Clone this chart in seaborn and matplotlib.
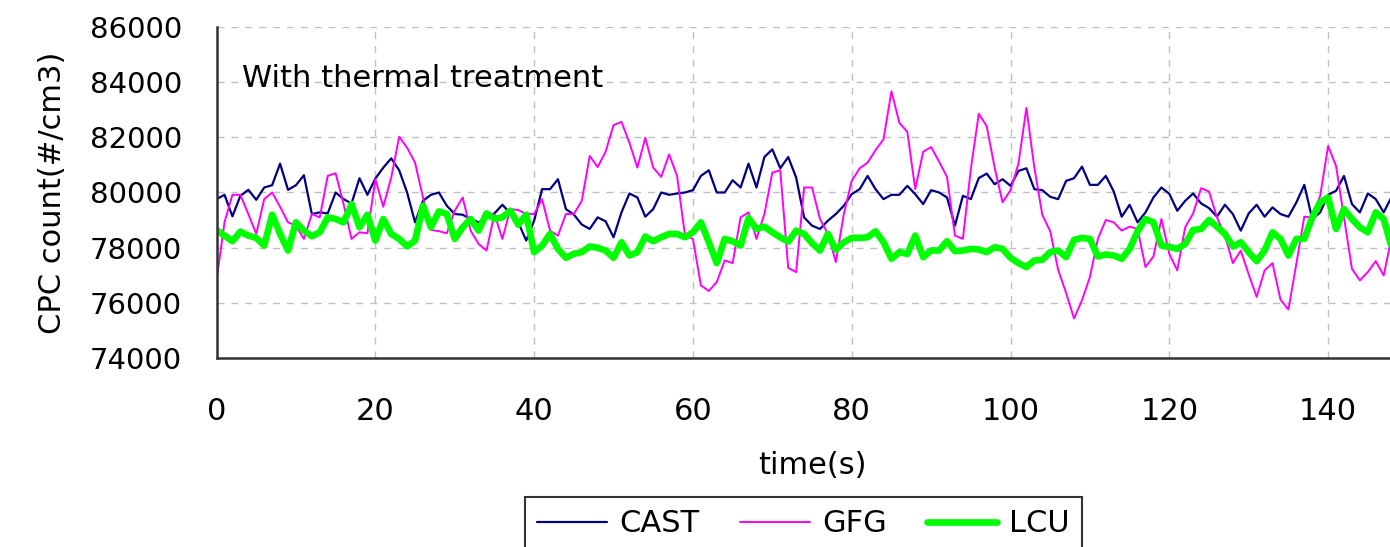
import numpy as np
import pandas as pd
import matplotlib
matplotlib.use("Agg")
import matplotlib.pyplot as plt
import seaborn as sns

# CPC counts, one value per second (0..148)
time_s = list(range(149))

cast = [
    79760, 79916, 79136, 79880, 80096, 79736, 80180, 80264, 81044, 80096,
    80264, 80624, 79220, 79280, 79244, 80000, 79760, 79604, 80516, 79916,
    80504, 80900, 81236, 80804, 80000, 78920, 79700, 79916, 80000, 79520,
    79220, 79196, 79040, 78920, 79076, 79244, 79556, 79244, 78920, 78260,
    78980, 80120, 80120, 80480, 79400, 79200, 78840, 78680, 79100, 78956,
    78380, 79280, 79964, 79820, 79124, 79400, 80000, 79916, 79964, 80000,
    80084, 80600, 80804, 80000, 80000, 80444, 80180, 81044, 80180, 81284,
    81560, 80876, 81284, 80540, 79100, 78800, 78680, 78980, 79220, 79520,
    79940, 80120, 80600, 80120, 79760, 79916, 79916, 80240, 79940, 79580,
    80084, 80000, 79820, 78800, 79880, 79760, 80520, 80684, 80300, 80480,
    80240, 80780, 80876, 80120, 80084, 79844, 79760, 80420, 80516, 80936,
    80276, 80276, 80600, 80036, 79124, 79556, 78920, 79280, 79820, 80180,
    79950, 79340, 79700, 79964, 79604, 79436, 79124, 79556, 79220, 78620,
    79244, 79556, 79124, 79460, 79220, 79124, 79640, 80276, 79040, 79280,
    79916, 80060, 80600, 79580, 79280, 79964, 79760, 79280, 79844,
]

gfg = [
    76820, 78920, 79916, 79916, 79220, 78500, 79760, 80000, 79484, 78920,
    78800, 78320, 79220, 79100, 80600, 80696, 79580, 78320, 78560, 78524,
    80480, 79484, 80540, 82016, 81620, 81080, 79820, 78644, 78600, 78524,
    79340, 79820, 78620, 78140, 77900, 79220, 78320, 79400, 79364, 79220,
    79220, 79760, 78620, 78440, 79220, 79220, 79700, 81320, 80920, 81476,
    82436, 82556, 81800, 80900, 81980, 80900, 80564, 81380, 80600, 78440,
    78320, 76640, 76436, 76760, 77540, 77444, 79100, 79280, 78320, 79220,
    80720, 80804, 77270, 77120, 80180, 80180, 79040, 78500, 77480, 79220,
    80420, 80876, 81080, 81536, 81920, 83660, 82520, 82196, 80120, 81476,
    81644, 81116, 80564, 78440, 78320, 80840, 82850, 82400, 80900, 79640,
    80084, 81044, 83060, 80900, 79196, 78596, 77204, 76364, 75440, 76100,
    76940, 78320, 79004, 78920, 78620, 78764, 78680, 77300, 77684, 79040,
    77780, 77180, 78740, 79244, 80156, 80036, 79100, 78440, 77444, 77900,
    77036, 76220, 77180, 77444, 76124, 75764, 77420, 79124, 79100, 79880,
    81680, 80960, 79100, 77240, 76820, 77120, 77516, 76996, 78380,
]

lcu = [
    78644, 78440, 78236, 78584, 78440, 78356, 78080, 79196, 78500, 77900,
    78920, 78620, 78416, 78560, 79100, 79040, 78920, 79580, 78740, 79196,
    78260, 79040, 78500, 78320, 78050, 78260, 79520, 78740, 79316, 79220,
    78320, 78740, 79040, 78620, 79244, 79040, 79100, 79340, 78836, 79196,
    77840, 78080, 78500, 77960, 77636, 77780, 77840, 78044, 78000, 77900,
    77636, 78200, 77720, 77840, 78404, 78236, 78380, 78500, 78500, 78380,
    78560, 78920, 78200, 77444, 78320, 78236, 78080, 79076, 78680, 78764,
    78560, 78380, 78220, 78620, 78500, 78164, 77900, 78500, 77924, 78200,
    78356, 78356, 78380, 78596, 78200, 77600, 77840, 77780, 78440, 77660,
    77900, 77900, 78236, 77876, 77900, 77960, 77940, 77840, 78020, 77960,
    77636, 77444, 77300, 77540, 77564, 77840, 77900, 77660, 78284, 78356,
    78320, 77684, 77756, 77720, 77600, 77960, 78596, 79040, 78920, 78080,
    78030, 77960, 78140, 78644, 78680, 79004, 78764, 78500, 78044, 78200,
    77840, 77516, 77900, 78560, 78320, 77720, 78320, 78320, 79100, 79640,
    79820, 78680, 79400, 79040, 78740, 78560, 79280, 79040, 78020,
]

series_names = ["CAST", "GFG", "LCU"]
series_colors = ["#000080", "#ff00ff", "#00ff00"]
series_widths = [1.6, 1.4, 4.8]
y_ticks = [74000, 76000, 78000, 80000, 82000, 84000, 86000]
x_ticks = [0, 20, 40, 60, 80, 100, 120, 140]


def plot_cpc(df):
    """Рисуем три ряда CPC."""
    fig = plt.figure(figsize=(13.9, 5.47), dpi=100)
    ax = fig.add_axes([0.1558, 0.345, 0.8568, 0.6062])

    for name, color, lw in zip(series_names, series_colors, series_widths):
        sns.lineplot(data=df[df["series"] == name], x="time", y="count",
                     color=color, linewidth=lw, label=name, ax=ax)

    ax.set_xlim(0, 150)
    ax.set_ylim(74000, 86000)
    ax.set_xticks(x_ticks)
    ax.set_yticks(y_ticks)
    ax.tick_params(axis="x", direction="in", length=12, width=1.2,
                   labelsize=22, pad=28, color="#333333", labelcolor="black")
    ax.tick_params(axis="y", direction="in", length=12, width=1.2,
                   labelsize=21, pad=25, color="#333333", labelcolor="black")

    ax.grid(True, linestyle=(0, (5, 5)), color="#c0c0c0", linewidth=1)
    for side in ["top", "right"]:
        ax.spines[side].set_visible(False)
    for side in ["left", "bottom"]:
        ax.spines[side].set_color("#333333")
        ax.spines[side].set_linewidth(1.8)

    ax.set_xlabel("time(s)", fontsize=22, labelpad=18, color="black")
    ax.set_ylabel("CPC count(#/cm3)", fontsize=22, labelpad=16, color="black")
    ax.text(0.0212, 0.818, "With thermal treatment", transform=ax.transAxes,
            fontsize=22, va="baseline", ha="left", color="black")

    leg = ax.legend(loc="upper center", bbox_to_anchor=(0.578, 0.0914),
                    bbox_transform=fig.transFigure, borderaxespad=0, ncol=3,
                    fontsize=22, frameon=True, fancybox=False,
                    handlelength=2.3, handletextpad=0.4, columnspacing=1.3,
                    borderpad=0.4)
    leg.get_frame().set_edgecolor("black")
    leg.get_frame().set_linewidth(1.5)
    for t in leg.get_texts():
        t.set_color("black")

    fig.savefig("out.png", dpi=100)


def main():
    df = pd.concat([
        pd.DataFrame({"time": time_s, "count": vals, "series": name})
        for name, vals in zip(series_names, [cast, gfg, lcu])
    ])
    sns.set_style("white")
    plt.rcParams["font.family"] = ["DejaVu Sans"]
    plot_cpc(df)


if __name__ == "__main__":
    main()
